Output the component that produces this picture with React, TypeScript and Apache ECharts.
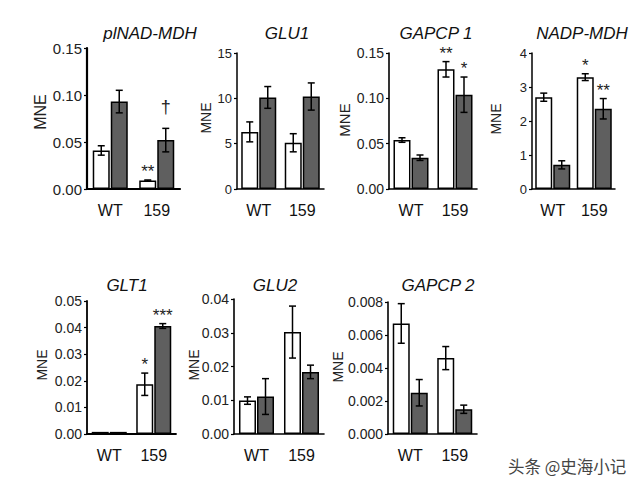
import React, { useEffect, useRef } from "react";
import * as echarts from "echarts";

// ---- data ----
const categories = ["WT", "159"];
const titles = ["plNAD-MDH", "GLU1", "GAPCP 1", "NADP-MDH", "GLT1", "GLU2", "GAPCP 2"];
const whiteMeans = [
  [0.041, 0.009],
  [6.3, 5.1],
  [0.054, 0.132],
  [2.7, 3.29],
  [0.0008, 0.0187],
  [0.0099, 0.0302],
  [0.0067, 0.0046],
];
const whiteErr = [
  [0.005, 0.0006],
  [1.1, 1.0],
  [0.0025, 0.0085],
  [0.12, 0.1],
  [0, 0.0042],
  [0.0011, 0.0077],
  [0.0012, 0.0007],
];
const greyMeans = [
  [0.093, 0.052],
  [10.1, 10.2],
  [0.0345, 0.104],
  [0.71, 2.36],
  [0.0008, 0.0406],
  [0.0111, 0.0184],
  [0.0025, 0.0015],
];
const greyErr = [
  [0.012, 0.0125],
  [1.2, 1.5],
  [0.003, 0.0195],
  [0.12, 0.3],
  [0, 0.0009],
  [0.0053, 0.002],
  [0.0008, 0.00025],
];
const whiteMarks = [
  ["", "**"],
  ["", ""],
  ["", "**"],
  ["", "*"],
  ["", "*"],
  ["", ""],
  ["", ""],
];
const greyMarks = [
  ["", "\u2020"],
  ["", ""],
  ["", "*"],
  ["", "**"],
  ["", "***"],
  ["", ""],
  ["", ""],
];
const yMax = [0.15, 15, 0.15, 4, 0.05, 0.04, 0.008];
const yInterval = [0.05, 5, 0.05, 1, 0.01, 0.01, 0.002];
const yDecimals = [2, 0, 2, 0, 2, 2, 3];
const yAxisName = "MNE";
const watermark = "头条 @史海小记";

// ---- layout ----
const grids = [
  { left: 87, top: 48, width: 93, height: 141 },
  { left: 237, top: 53, width: 87, height: 136 },
  { left: 389, top: 53, width: 88, height: 136 },
  { left: 532, top: 53, width: 83, height: 136 },
  { left: 87, top: 301, width: 89, height: 133 },
  { left: 234, top: 299, width: 90, height: 135 },
  { left: 388, top: 302, width: 89, height: 132 },
];
const titlePos = [
  [150, 33], [287, 33], [436, 33], [582, 33], [127, 285], [275, 285], [438, 285],
];
const namePos = [
  [40, 112], [206, 118], [344, 120], [496, 119], [42, 365], [194, 365], [338, 367],
];
const tickFont = [15, 13, 14, 13, 14, 14, 14];
const nameFont = [16, 14, 15, 14, 14, 14, 14];
const axisWidth = [2.2, 1.5, 1.6, 1.5, 1.8, 1.6, 1.6];

const FONT = "Liberation Sans, Arial, sans-serif";
const BAR_W = 17;
const HALF = 9;

function errItem(params: any, api: any) {
  const cat = api.value(0);
  const side = api.value(1);
  const lo = api.coord([cat, api.value(2)]);
  const hi = api.coord([cat, api.value(3)]);
  const x = lo[0] + (side === 0 ? -HALF : HALF);
  const cap = 3.5;
  const st = { stroke: "#000", lineWidth: 1.5 };
  return {
    type: "group",
    children: [
      { type: "line", shape: { x1: x, y1: lo[1], x2: x, y2: hi[1] }, style: st },
      { type: "line", shape: { x1: x - cap, y1: hi[1], x2: x + cap, y2: hi[1] }, style: st },
      { type: "line", shape: { x1: x - cap, y1: lo[1], x2: x + cap, y2: lo[1] }, style: st },
    ],
  };
}

export default function App() {
  const ref = useRef<HTMLDivElement>(null);
  useEffect(() => {
    document.body.style.margin = "0";
    const chart = echarts.init(ref.current!, null, { renderer: "svg" });
    const xAxis: any[] = [];
    const yAxis: any[] = [];
    const series: any[] = [];
    const graphic: any[] = [];
    grids.forEach((g, i) => {
      xAxis.push({
        type: "category",
        gridIndex: i,
        data: categories,
        axisLine: { lineStyle: { color: "#000", width: axisWidth[i] } },
        axisTick: { show: false },
        axisLabel: { color: "#111", fontSize: 16, fontFamily: FONT, margin: 13 },
      });
      yAxis.push({
        type: "value",
        gridIndex: i,
        min: 0,
        max: yMax[i],
        interval: yInterval[i],
        splitLine: { show: false },
        axisLine: { show: true, lineStyle: { color: "#000", width: axisWidth[i] } },
        axisTick: { show: true, length: 3, lineStyle: { color: "#000", width: 1.2 } },
        axisLabel: {
          color: "#222",
          fontSize: tickFont[i],
          fontFamily: FONT,
          margin: 5,
          formatter: (v: number) => v.toFixed(yDecimals[i]),
        },
      });
      series.push({
        type: "bar",
        xAxisIndex: i,
        yAxisIndex: i,
        data: whiteMeans[i],
        barWidth: BAR_W,
        barGap: "6%",
        itemStyle: { color: "#ffffff", borderColor: "#000", borderWidth: 1.5 },
        z: 2,
      });
      series.push({
        type: "bar",
        xAxisIndex: i,
        yAxisIndex: i,
        data: greyMeans[i],
        barWidth: BAR_W,
        barGap: "6%",
        itemStyle: { color: "#5f5f5f", borderColor: "#000", borderWidth: 1.5 },
        z: 2,
      });
      const errData: number[][] = [];
      const markData: number[][] = [];
      const markText: string[] = [];
      categories.forEach((_, c) => {
        const wm = whiteMeans[i][c], we = whiteErr[i][c];
        const gm = greyMeans[i][c], ge = greyErr[i][c];
        if (we > 0) errData.push([c, 0, wm - we, wm + we]);
        if (ge > 0) errData.push([c, 1, gm - ge, gm + ge]);
        if (whiteMarks[i][c]) {
          markData.push([c, 0, wm + we]);
          markText.push(whiteMarks[i][c]);
        }
        if (greyMarks[i][c]) {
          markData.push([c, 1, gm + ge]);
          markText.push(greyMarks[i][c]);
        }
      });
      series.push({
        type: "custom",
        xAxisIndex: i,
        yAxisIndex: i,
        data: errData,
        renderItem: errItem,
        z: 5,
        silent: true,
      });
      if (markData.length) {
        series.push({
          type: "custom",
          xAxisIndex: i,
          yAxisIndex: i,
          data: markData,
          z: 6,
          silent: true,
          renderItem: (params: any, api: any) => {
            const cat = api.value(0);
            const side = api.value(1);
            const p = api.coord([cat, api.value(2)]);
            const txt = markText[params.dataIndex];
            const dagger = txt === "\u2020";
            return {
              type: "text",
              x: p[0] + (side === 0 ? -HALF : HALF),
              y: p[1] - (dagger ? 12 : 0),
              style: {
                text: txt,
                fill: "#222",
                fontSize: dagger ? 18 : 17,
                fontFamily: FONT,
                align: "center",
                verticalAlign: "bottom",
              },
            };
          },
        });
      }
      graphic.push({
        type: "text",
        x: titlePos[i][0],
        y: titlePos[i][1],
        style: {
          text: titles[i],
          fill: "#111",
          fontSize: 17,
          fontStyle: "italic",
          fontFamily: FONT,
          align: "center",
          verticalAlign: "middle",
        },
      });
      graphic.push({
        type: "text",
        x: namePos[i][0],
        y: namePos[i][1],
        rotation: Math.PI / 2,
        style: {
          text: yAxisName,
          fill: "#222",
          fontSize: nameFont[i],
          fontFamily: FONT,
          align: "center",
          verticalAlign: "middle",
        },
      });
    });
    graphic.push({
      type: "text",
      x: 508,
      y: 466,
      style: {
        text: watermark,
        fill: "#444",
        fontSize: 16.5,
        fontFamily: "Noto Sans CJK SC",
        align: "left",
        verticalAlign: "middle",
      },
    });
    chart.setOption({
      animation: false,
      backgroundColor: "#fff",
      grid: grids.map((g) => ({ ...g, containLabel: false })),
      xAxis,
      yAxis,
      series,
      graphic,
    });
    return () => chart.dispose();
  }, []);
  return (
    <div
      ref={ref}
      style={{ position: "fixed", left: 0, top: 0, width: 640, height: 489 }}
    />
  );
}
